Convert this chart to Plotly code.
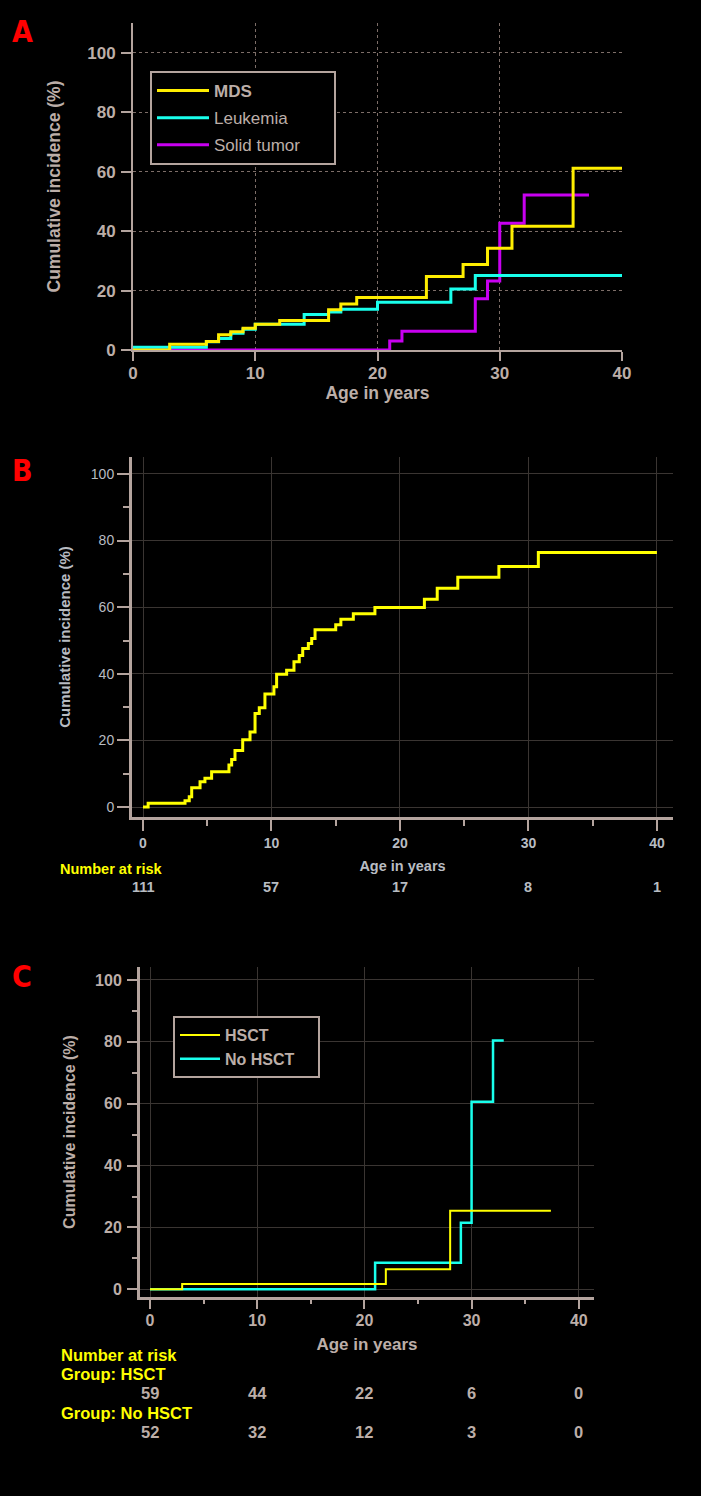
import plotly.graph_objects as go

# page is 701x1496; the browser body keeps its default 8px margin,
# so the figure itself is 16px smaller and all positions are shifted by 8px
PAGE_W, PAGE_H = 701, 1496
OFF = 8
W, H = PAGE_W - 2 * OFF, PAGE_H - 2 * OFF

FONT = "Liberation Sans, Arial, sans-serif"
TAN = "#bcaea8"
AXIS = "#b4a49e"
GRID_A = "#7d6e68"
GRID_BC = "#3a3532"
TXT_B = "#b8bcc2"
YEL = "#ffee00"
YEL2 = "#ffff00"
CYAN = "#19ffec"
PURP = "#c800f0"
RED = "#ff0000"

# ---------------- Panel A data ----------------
mds_x = [0, 3, 6, 7, 8, 9, 10, 12, 16, 17, 18.3, 24, 27, 29, 31, 36, 40]
mds_y = [0, 1.9, 2.9, 5.1, 6.1, 7.3, 8.7, 9.9, 13.5, 15.5, 17.7, 24.7, 28.8, 34.2, 41.6, 61.1, 61.1]
leuk_x = [0, 6, 7, 8, 9, 10, 14, 16, 17, 20, 26, 28, 40]
leuk_y = [0.9, 2.8, 3.9, 5.6, 7.0, 8.7, 11.9, 12.8, 13.7, 16.1, 20.5, 25.1, 25.1]
solid_x = [0, 21, 22, 28, 29, 30, 32, 37.3]
solid_y = [0, 3.0, 6.3, 17.2, 23.2, 42.6, 52.1, 52.1]

# ---------------- Panel B data ----------------
all_x = [0, 0.4, 3.27, 3.6, 3.79, 4.44, 4.82, 5.34, 6.69, 6.9, 7.16, 7.76, 8.33, 8.72,
         9.05, 9.49, 10.19, 10.4, 11.18, 11.75, 12.16, 12.43, 12.87, 13.13, 13.39,
         15.0, 15.4, 16.37, 18.05, 21.9, 22.9, 24.5, 27.7, 30.77, 40]
all_y = [0, 1.1, 1.9, 3.1, 5.8, 7.6, 8.6, 10.6, 12.6, 14.3, 17.0, 20.2, 22.5, 28.1,
         29.8, 33.9, 36.1, 39.9, 41.1, 43.6, 45.5, 47.6, 49.1, 50.6, 53.2,
         54.7, 56.4, 58.0, 59.9, 62.4, 65.7, 69.0, 72.2, 76.4, 76.4]
risk_times = [0, 10, 20, 30, 40]
risk_all = [111, 57, 17, 8, 1]

# ---------------- Panel C data ----------------
hsct_x = [0, 3, 22, 28, 37.4]
hsct_y = [0, 1.7, 6.5, 25.4, 25.4]
nohsct_x = [0, 21, 29, 30, 32, 33]
nohsct_y = [0, 8.6, 21.5, 60.6, 80.4, 80.4]
risk_hsct = [59, 44, 22, 6, 0]
risk_nohsct = [52, 32, 12, 3, 0]

xticks = [0, 10, 20, 30, 40]
yticks = [0, 20, 40, 60, 80, 100]


def px(x):
    return (x - OFF) / W


def py(y):
    return 1 - (y - OFF) / H


fig = go.Figure()

# Panel A traces (solid first so MDS is drawn on top)
fig.add_trace(go.Scatter(x=solid_x, y=solid_y, mode="lines", line=dict(color=PURP, width=3, shape="hv"),
                         name="Solid tumor\u00a0\u00a0\u00a0\u00a0\u00a0\u00a0", xaxis="x", yaxis="y",
                         legend="legend", legendrank=3, legendgroup="a3"))
fig.add_trace(go.Scatter(x=leuk_x, y=leuk_y, mode="lines", line=dict(color=CYAN, width=3, shape="hv"),
                         name="Leukemia", xaxis="x", yaxis="y", legend="legend", legendrank=2, legendgroup="a2"))
fig.add_trace(go.Scatter(x=mds_x, y=mds_y, mode="lines", line=dict(color=YEL, width=3, shape="hv"),
                         name="<b>MDS</b>", xaxis="x", yaxis="y", legend="legend", legendrank=1, legendgroup="a1"))

# Panel B trace
fig.add_trace(go.Scatter(x=all_x, y=all_y, mode="lines", line=dict(color=YEL2, width=3, shape="hv"),
                         name="All", showlegend=False, xaxis="x2", yaxis="y2"))

# Panel C traces
fig.add_trace(go.Scatter(x=nohsct_x, y=nohsct_y, mode="lines", line=dict(color=CYAN, width=2.5, shape="hv"),
                         name="No HSCT\u00a0\u00a0\u00a0\u00a0", xaxis="x3", yaxis="y3", legend="legend2", legendrank=2))
fig.add_trace(go.Scatter(x=hsct_x, y=hsct_y, mode="lines", line=dict(color=YEL2, width=2, shape="hv"),
                         name="HSCT", xaxis="x3", yaxis="y3", legend="legend2", legendrank=1))

# ---------------- Axes ----------------
tickfont_A = dict(family=FONT, size=17, color=TAN, weight="bold")
fig.update_layout(
    xaxis=dict(domain=[px(133), px(622)], range=[0, 40], tickvals=xticks, ticks="outside", ticklen=9,
               tickwidth=2, tickcolor=AXIS, showline=True, linecolor=AXIS, linewidth=2, showgrid=False,
               zeroline=False, tickfont=tickfont_A, ticklabelstandoff=-2, automargin=False,
               minor=dict(tickmode="array", tickvals=[10, 20, 30], showgrid=True, gridcolor=GRID_A,
                          griddash="dot", gridwidth=1, ticks=""),
               title=dict(text="Age in years", font=dict(family=FONT, size=17.5, color=TAN, weight="bold"),
                          standoff=0),
               anchor="y"),
    yaxis=dict(domain=[py(350), py(23)], range=[0, 110], tickvals=yticks, ticks="outside", ticklen=10,
               tickwidth=2, tickcolor=AXIS, showline=True, linecolor=AXIS, linewidth=2, showgrid=False,
               zeroline=False, tickfont=tickfont_A, ticklabelstandoff=2, automargin=False,
               minor=dict(tickmode="array", tickvals=[20, 40, 60, 80, 100], showgrid=True, gridcolor=GRID_A,
                          griddash="dot", gridwidth=1, ticks=""),
               title=dict(text="Cumulative incidence (%)", font=dict(family=FONT, size=17.5, color=TAN, weight="bold"),
                          standoff=22),
               anchor="x"),
)

tickfont_B = dict(family=FONT, size=14, color=TXT_B)
fig.update_layout(
    xaxis2=dict(domain=[px(132), px(673)], range=[-0.856, 41.25], tickvals=xticks, ticks="outside", ticklen=11,
                tickwidth=2, tickcolor=AXIS, showline=True, linecolor=AXIS, linewidth=3, showgrid=True,
                gridcolor=GRID_BC, gridwidth=1, zeroline=False, automargin=False,
                tickfont=dict(family=FONT, size=14, color=TXT_B, weight="bold"), ticklabelstandoff=0,
                minor=dict(tickvals=[5, 15, 25, 35], tickmode="array", ticks="outside", ticklen=6, tickwidth=2,
                           tickcolor=AXIS, showgrid=False),
                title=dict(text="Age in years", font=dict(family=FONT, size=14.5, color=TXT_B, weight="bold"), standoff=12),
                anchor="y2"),
    yaxis2=dict(domain=[py(817), py(457)], range=[-3.0, 105.1], tickvals=yticks, ticks="outside", ticklen=12,
                tickwidth=2, tickcolor=AXIS, showline=True, linecolor=AXIS, linewidth=3, showgrid=True,
                gridcolor=GRID_BC, gridwidth=1, zeroline=False, tickfont=tickfont_B, ticklabelstandoff=0,
                automargin=False,
                minor=dict(tickvals=[10, 30, 50, 70, 90], tickmode="array", ticks="outside", ticklen=6, tickwidth=2,
                           tickcolor=AXIS, showgrid=False),
                title=dict(text="Cumulative incidence (%)", font=dict(family=FONT, size=15, color=TXT_B, weight="bold"),
                           standoff=17),
                anchor="x2"),
)

tickfont_C = dict(family=FONT, size=16, color=TAN, weight="bold")
fig.update_layout(
    xaxis3=dict(domain=[px(140), px(594)], range=[-0.933, 41.42], tickvals=xticks, ticks="outside", ticklen=9,
                tickwidth=2, tickcolor=AXIS, showline=True, linecolor=AXIS, linewidth=3, showgrid=True,
                gridcolor=GRID_BC, gridwidth=1, zeroline=False, tickfont=tickfont_C, ticklabelstandoff=-2,
                automargin=False,
                minor=dict(tickvals=[5, 15, 25, 35], tickmode="array", ticks="outside", ticklen=4, tickwidth=2,
                           tickcolor=AXIS, showgrid=False),
                title=dict(text="Age in years", font=dict(family=FONT, size=17, color=TAN, weight="bold"), standoff=10),
                anchor="y3"),
    yaxis3=dict(domain=[py(1297), py(967)], range=[-2.49, 104.2], tickvals=yticks, ticks="outside", ticklen=10,
                tickwidth=2, tickcolor=AXIS, showline=True, linecolor=AXIS, linewidth=3, showgrid=True,
                gridcolor=GRID_BC, gridwidth=1, zeroline=False, tickfont=tickfont_C, ticklabelstandoff=2,
                automargin=False,
                minor=dict(tickvals=[10, 30, 50, 70, 90], tickmode="array", ticks="outside", ticklen=5, tickwidth=2,
                           tickcolor=AXIS, showgrid=False),
                title=dict(text="Cumulative incidence (%)", font=dict(family=FONT, size=16, color=TAN, weight="bold"),
                           standoff=16),
                anchor="x3"),
)

# ---------------- Legends ----------------
fig.update_layout(
    legend=dict(x=px(150), y=py(71), xanchor="left", yanchor="top", bgcolor="black", bordercolor=AXIS,
                borderwidth=2, font=dict(family=FONT, size=17, color=TAN), itemwidth=52,
                traceorder="grouped", tracegroupgap=2),
    legend2=dict(x=px(173), y=py(1016), xanchor="left", yanchor="top", bgcolor="black", bordercolor=AXIS,
                 borderwidth=2, font=dict(family=FONT, size=16, color=TAN, weight="bold"), itemwidth=40,
                 traceorder="normal"),
)

# ---------------- Annotations ----------------
ann = []
for lab, yy in [("A", 31), ("B", 471), ("C", 976)]:
    ann.append(dict(text=f"<b>{lab}</b>", x=px(22), y=py(yy), xref="paper", yref="paper", showarrow=False,
                    xanchor="center", yanchor="middle",
                    font=dict(family="Liberation Sans Narrow, DejaVu Sans Condensed, sans-serif", size=30, color=RED)))

# Panel B risk table
ann.append(dict(text="<b>Number at risk</b>", x=px(58), y=py(869), xref="paper", yref="paper", showarrow=False,
                xanchor="left", yanchor="middle", font=dict(family=FONT, size=14.5, color=YEL2)))
for t, n in zip(risk_times, risk_all):
    ann.append(dict(text=f"<b>{n}</b>", x=t, y=py(887), xref="x2", yref="paper", showarrow=False,
                    xanchor="center", yanchor="middle", font=dict(family=FONT, size=14.5, color=TXT_B)))

# Panel C risk table
for txt, yy in [("Number at risk", 1355), ("Group: HSCT", 1374), ("Group: No HSCT", 1413)]:
    ann.append(dict(text=f"<b>{txt}</b>", x=px(59), y=py(yy), xref="paper", yref="paper", showarrow=False,
                    xanchor="left", yanchor="middle", font=dict(family=FONT, size=16.5, color=YEL2)))
for vals, yy in [(risk_hsct, 1393), (risk_nohsct, 1432)]:
    for t, n in zip(risk_times, vals):
        ann.append(dict(text=f"<b>{n}</b>", x=t, y=py(yy), xref="x3", yref="paper", showarrow=False,
                        xanchor="center", yanchor="middle", font=dict(family=FONT, size=16.5, color=TAN)))

fig.update_layout(
    width=W, height=H, margin=dict(l=0, r=0, t=0, b=0, autoexpand=False),
    paper_bgcolor="black", plot_bgcolor="black",
    font=dict(family=FONT, color=TAN),
    annotations=ann,
)

fig.write_html("out.html", config={"displayModeBar": False},
               post_script="document.body.style.background='black';document.documentElement.style.background='black';")
